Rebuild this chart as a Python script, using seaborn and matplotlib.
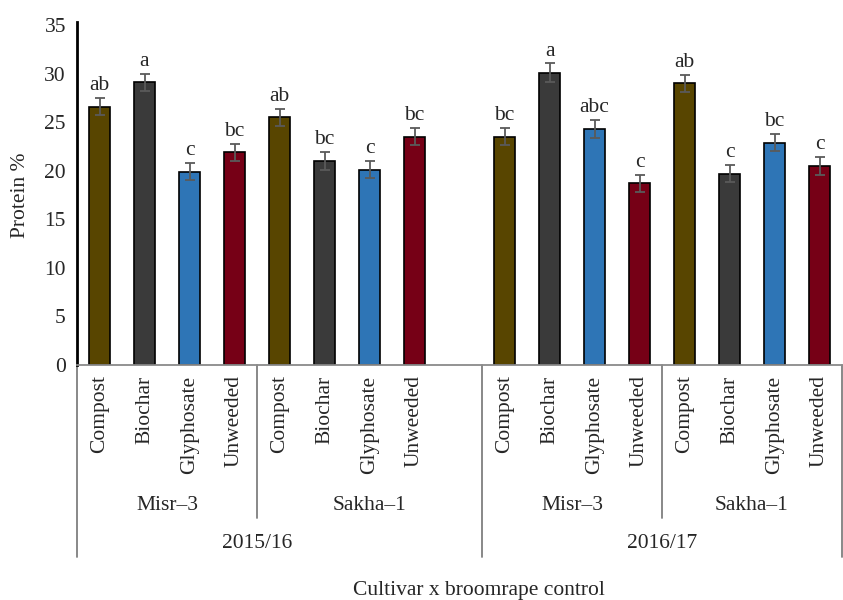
import numpy as np
import pandas as pd
import matplotlib
matplotlib.use("Agg")
import matplotlib.pyplot as plt
import seaborn as sns

# Protein content by season, cultivar and broomrape control treatment
seasons = ["2015/16", "2015/16", "2015/16", "2015/16", "2015/16", "2015/16", "2015/16", "2015/16",
           "2016/17", "2016/17", "2016/17", "2016/17", "2016/17", "2016/17", "2016/17", "2016/17"]
cultivars = ["Misr–3", "Misr–3", "Misr–3", "Misr–3", "Sakha–1", "Sakha–1", "Sakha–1", "Sakha–1",
             "Misr–3", "Misr–3", "Misr–3", "Misr–3", "Sakha–1", "Sakha–1", "Sakha–1", "Sakha–1"]
treatments = ["Compost", "Biochar", "Glyphosate", "Unweeded"] * 4
protein = [26.6, 29.1, 19.9, 21.9, 25.5, 21.0, 20.1, 23.5,
           23.5, 30.1, 24.3, 18.7, 29.0, 19.7, 22.9, 20.5]
std_err = [0.9, 0.9, 0.9, 0.9, 0.9, 0.9, 0.9, 0.9,
           0.9, 0.95, 0.9, 0.9, 0.9, 0.9, 0.9, 0.9]
letters = ["ab", "a", "c", "bc", "ab", "bc", "c", "bc",
           "bc", "a", "abc", "c", "ab", "c", "bc", "c"]

treatment_colors = {"Compost": "#584500", "Biochar": "#3a3a3a",
                    "Glyphosate": "#2e75b6", "Unweeded": "#760016"}

df = pd.DataFrame({"season": seasons, "cultivar": cultivars,
                   "treatment": treatments, "protein": protein})
df["slot"] = [f"{s}|{c}|{t}" for s, c, t in zip(seasons, cultivars, treatments)]

# one blank slot separates the two seasons
order = list(df["slot"][:8]) + ["blank"] + list(df["slot"][8:])
positions = [order.index(s) for s in df["slot"]]

sns.set_style("white")
plt.rcParams["font.family"] = ["Liberation Serif", "DejaVu Serif"]
plt.rcParams["font.size"] = 15.5

fig = plt.figure(figsize=(8.43, 6.0), dpi=100)
W, H = 843, 600
left, right, top, bottom = 77, 842, 25, 365
ax = fig.add_axes([left / W, 1 - bottom / H, (right - left) / W, (bottom - top) / H])

sns.barplot(data=df, x="slot", y="protein", hue="treatment", order=order,
            palette=treatment_colors, dodge=False, width=0.46, errorbar=None,
            saturation=1, edgecolor="black", linewidth=1.2, legend=False, ax=ax)

ax.errorbar(positions, protein, yerr=std_err, fmt="none", ecolor="#5a5a5a",
            elinewidth=1.3, capsize=3.6, capthick=1.3, zorder=5)

for x, v, e, lab in zip(positions, protein, std_err, letters):
    ax.annotate(lab, (x, v + e), xytext=(0, 2), textcoords="offset points",
                ha="center", va="bottom", fontsize=15.5)

ax.set_xlim(-0.5, len(order) - 0.5)
ax.set_ylim(0, 35)
ax.set_yticks(np.arange(0, 36, 5))
ax.tick_params(axis="y", length=0, pad=8, labelsize=15.5)
ax.tick_params(axis="x", length=0, pad=7.5, labelsize=15.5)
ax.set_xticks(range(len(order)))
ax.set_xticklabels([s.split("|")[-1] if s != "blank" else "" for s in order],
                   rotation=90, va="top")
ax.set_xlabel("")
ax.set_ylabel("Protein %", fontsize=15.5, labelpad=10)

for side in ["top", "right"]:
    ax.spines[side].set_visible(False)
ax.spines["left"].set_color("black")
ax.spines["left"].set_linewidth(2.0)
ax.spines["left"].set_bounds(0, 35.3)
ax.spines["bottom"].set_color("#8a8a8a")
ax.spines["bottom"].set_linewidth(1.3)

# hierarchical category brackets below the axis
tr = ax.get_xaxis_transform()
def yfrac(py):
    return -(py - bottom) / (bottom - top)

grey = "#7f7f7f"
for xb in [-0.5, 8.5, 16.5]:
    ax.plot([xb, xb], [0, yfrac(557)], transform=tr, color=grey, lw=1.3, clip_on=False)
for xb in [3.5, 12.5]:
    ax.plot([xb, xb], [0, yfrac(518)], transform=tr, color=grey, lw=1.3, clip_on=False)

cultivar_centers = {(0, "Misr–3"): 1.5, (1, "Sakha–1"): 6.0,
                    (2, "Misr–3"): 10.5, (3, "Sakha–1"): 14.5}
for (_, name), xc in cultivar_centers.items():
    ax.text(xc, yfrac(505), name, transform=tr, ha="center", va="center", fontsize=15.5)

for name, xc in [("2015/16", 3.5), ("2016/17", 12.5)]:
    ax.text(xc, yfrac(543), name, transform=tr, ha="center", va="center", fontsize=15.5)

fig.text(479 / W, 1 - 590 / H, "Cultivar x broomrape control",
         ha="center", va="center", fontsize=15.5)

fig.savefig("out.png", dpi=100)
